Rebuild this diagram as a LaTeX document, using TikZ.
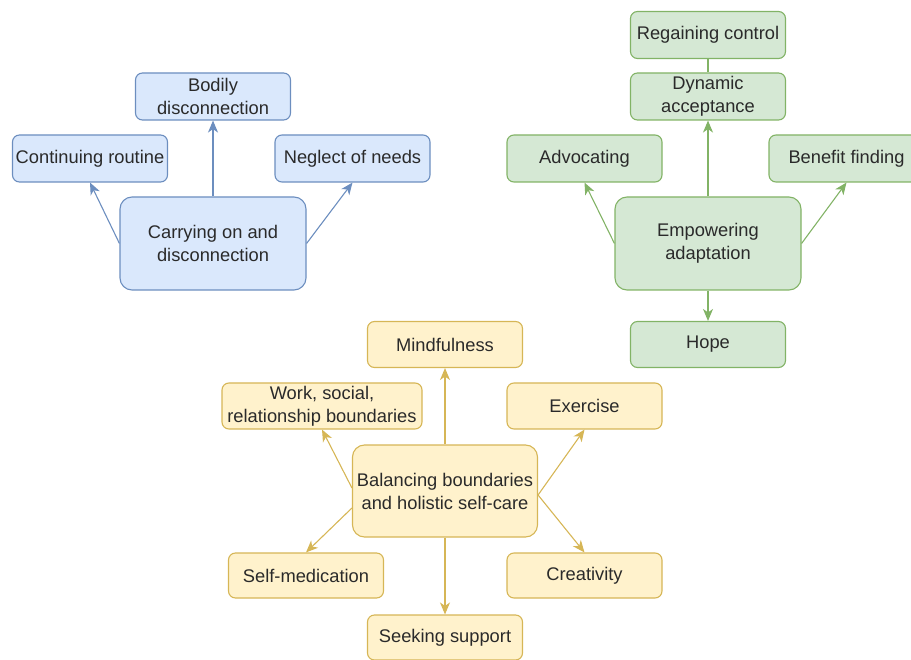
\documentclass[tikz,border=0pt]{standalone}
\usepackage{fontspec}
\setmainfont{Liberation Sans}
\usetikzlibrary{arrows.meta,calc}
\definecolor{bfill}{HTML}{DAE8FC}\definecolor{bline}{HTML}{6C8EBF}
\definecolor{gfill}{HTML}{D5E8D4}\definecolor{gline}{HTML}{82B366}
\definecolor{yfill}{HTML}{FFF2CC}\definecolor{yline}{HTML}{D6B656}
\definecolor{txt}{HTML}{2A2A2A}
\tikzset{
  box/.style={rectangle,rounded corners=7pt,line width=1.1pt,align=center,inner sep=0pt,
    font=\fontsize{18.3}{23}\selectfont,text=txt},
  sm/.style={box,minimum width=155pt,minimum height=47pt},
  big/.style={box,minimum width=186pt,minimum height=93pt,rounded corners=12pt},
  blue/.style={draw=bline,fill=bfill},
  green/.style={draw=gline,fill=gfill},
  yellow/.style={draw=yline,fill=yfill},
  arr/.style={line width=1.1pt,-{Stealth[length=12pt,width=10pt,inset=3.5pt]}},
}
\begin{document}
\begin{tikzpicture}[x=1pt,y=-1pt]
\useasboundingbox (0,0) rectangle (911,660);
\clip (0,0) rectangle (911,660);
% blue
\node[sm,blue] (bod) at (213,96.5) {Bodily\\disconnection};
\node[sm,blue] (cont) at (90,158.5) {Continuing routine};
\node[sm,blue] (negl) at (352.5,158.5) {Neglect of needs};
\node[big,blue] (carry) at (213,243.5) {Carrying on and\\disconnection};
\draw[arr,bline] (carry.north) -- (bod.south);
\draw[arr,bline] (carry.west) -- (cont.south);
\draw[arr,bline] (carry.east) -- (negl.south);
% green
\node[sm,green] (reg) at (708,35) {Regaining control};
\node[sm,green] (dyn) at (708,96.5) {Dynamic\\acceptance};
\node[sm,green] (adv) at (584.5,158.5) {Advocating};
\node[sm,green] (ben) at (846.5,158.5) {Benefit finding};
\node[big,green] (emp) at (708,243.5) {Empowering\\adaptation};
\node[sm,green,minimum height=46pt] (hope) at (708,344.5) {Hope};
\draw[line width=1.1pt,gline] (dyn.north) -- (reg.south);
\draw[arr,gline] (emp.north) -- (dyn.south);
\draw[arr,gline] (emp.west) -- (adv.south);
\draw[arr,gline] (emp.east) -- (ben.south);
\draw[arr,gline] (emp.south) -- (hope.north);
% yellow
\node[sm,yellow,minimum height=46pt] (mind) at (445,344.5) {Mindfulness};
\node[sm,yellow,minimum width=200pt,minimum height=46pt] (work) at (322,406) {Work, social,\\relationship boundaries};
\node[sm,yellow,minimum height=46pt] (exer) at (584.5,406) {Exercise};
\node[big,yellow,minimum width=185pt,minimum height=92pt] (bal) at (445,491) {Balancing boundaries\\and holistic self-care};
\node[sm,yellow,minimum height=45pt] (smed) at (306,575.5) {Self-medication};
\node[sm,yellow,minimum height=45pt] (crea) at (584.5,575.5) {Creativity};
\node[sm,yellow,minimum height=45pt] (seek) at (445,637.5) {Seeking support};
\coordinate (bl1) at ($(bal.west)+(0,-3)$);
\coordinate (bl2) at ($(bal.west)+(0,17)$);
\coordinate (br) at ($(bal.east)+(0,4)$);
\draw[arr,yline] (bal.north) -- (mind.south);
\draw[arr,yline] (bl1) -- (work.south);
\draw[arr,yline] (bl2) -- (smed.north);
\draw[arr,yline] (br) -- (exer.south);
\draw[arr,yline] (br) -- (crea.north);
\draw[arr,yline] (bal.south) -- (seek.north);
\end{tikzpicture}
\end{document}
